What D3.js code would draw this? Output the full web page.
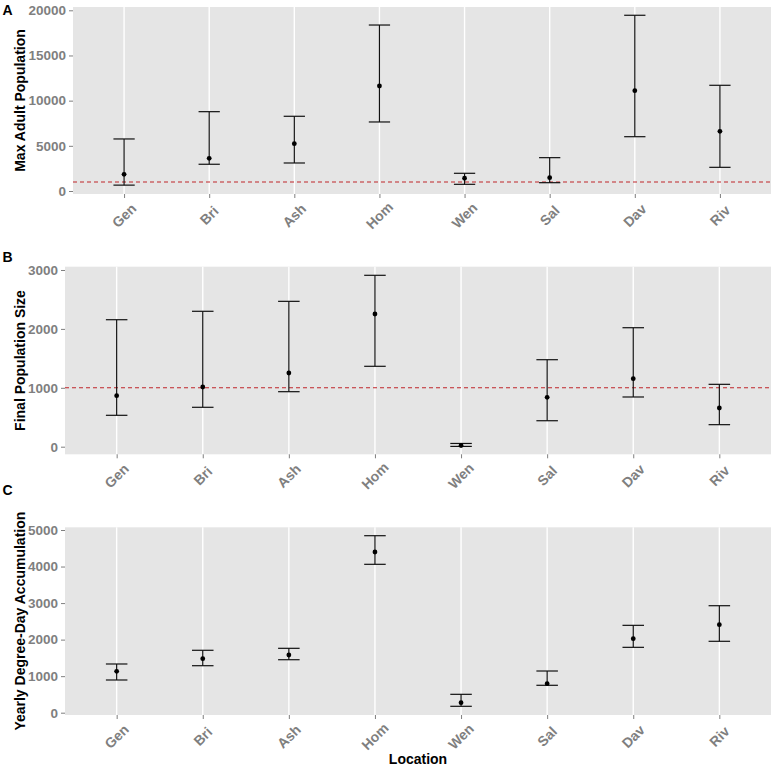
<!DOCTYPE html>
<html>
<head>
<meta charset="utf-8">
<script src="https://cdn.jsdelivr.net/npm/d3@7/dist/d3.min.js"></script>
<style>
  body { margin: 0; background: #fff; }
  svg { display: block; font-family: "Liberation Sans", Arial, Helvetica, sans-serif; }
</style>
</head>
<body>
<svg id="chart" width="776" height="768"></svg>
<script>
// ---- Data ----
const locations = ["Gen", "Bri", "Ash", "Hom", "Wen", "Sal", "Dav", "Riv"];

// Panel A: Max Adult Population
const maxAdultMean = [1850, 3620, 5240, 11620, 1410, 1470, 11100, 6610];
const maxAdultLow  = [650, 2960, 3100, 7640, 740, 920, 6010, 2620];
const maxAdultHigh = [5760, 8780, 8270, 18370, 1960, 3690, 19450, 11700];
const maxAdultTicks = [0, 5000, 10000, 15000, 20000];

// Panel B: Final Population Size
const finalMean = [866, 1014, 1251, 2253, 20, 839, 1155, 657];
const finalLow  = [533, 669, 934, 1365, 5, 441, 844, 374];
const finalHigh = [2156, 2299, 2468, 2910, 55, 1477, 2020, 1059];
const finalTicks = [0, 1000, 2000, 3000];

// Panel C: Yearly Degree-Day Accumulation
const ddMean = [1133, 1478, 1579, 4398, 274, 794, 2025, 2408];
const ddLow  = [895, 1286, 1450, 4061, 175, 750, 1789, 1954];
const ddHigh = [1333, 1708, 1762, 4844, 503, 1141, 2391, 2928];
const ddTicks = [0, 1000, 2000, 3000, 4000, 5000];

const thresholdLine = 1000;

// ---- Drawing ----
const svg = d3.select("#chart");

const panels = [
  { tag: "A", title: "Max Adult Population", mean: maxAdultMean, low: maxAdultLow, high: maxAdultHigh,
    ticks: maxAdultTicks, domain: [-332, 20365], x0: 73, x1: 771, y0: 7, y1: 194, hline: thresholdLine, tagY: 14.5 },
  { tag: "B", title: "Final Population Size", mean: finalMean, low: finalLow, high: finalHigh,
    ticks: finalTicks, domain: [-129, 3056], x0: 65, x1: 771, y0: 266.7, y1: 454.3, hline: thresholdLine, tagY: 261.5 },
  { tag: "C", title: "Yearly Degree-Day Accumulation", mean: ddMean, low: ddLow, high: ddHigh,
    ticks: ddTicks, domain: [-63, 5074], x0: 65, x1: 771, y0: 527.3, y1: 715, hline: null, tagY: 494.5 }
];

const gray = "#7f7f7f";

panels.forEach(p => {
  const g = svg.append("g");
  const x = d3.scalePoint().domain(locations).range([p.x0, p.x1]).padding(0.6);
  const y = d3.scaleLinear().domain(p.domain).range([p.y1, p.y0]);

  // background
  g.append("rect").attr("x", p.x0).attr("y", p.y0)
    .attr("width", p.x1 - p.x0).attr("height", p.y1 - p.y0).attr("fill", "#e5e5e5");

  // vertical grid lines
  g.selectAll(".vg").data(locations).enter().append("line")
    .attr("x1", d => x(d)).attr("x2", d => x(d))
    .attr("y1", p.y0).attr("y2", p.y1)
    .attr("stroke", "#ffffff").attr("stroke-width", 1.4);

  // y axis
  const yAxis = d3.axisLeft(y).tickValues(p.ticks).tickSize(4).tickPadding(3).tickFormat(d3.format("d"));
  const ya = g.append("g").attr("transform", `translate(${p.x0},0)`).call(yAxis);
  ya.select(".domain").remove();
  ya.selectAll(".tick line").attr("stroke", gray).attr("stroke-width", 1);
  ya.selectAll(".tick text").attr("fill", gray).attr("font-size", "13.5px").attr("font-weight", "bold")
    .attr("font-family", "Liberation Sans, Arial, sans-serif");

  // x axis
  const xAxis = d3.axisBottom(x).tickSize(4).tickPadding(0);
  const xa = g.append("g").attr("transform", `translate(0,${p.y1})`).call(xAxis);
  xa.select(".domain").remove();
  xa.selectAll(".tick line").attr("stroke", gray).attr("stroke-width", 1);
  xa.selectAll(".tick text")
    .attr("fill", gray).attr("font-size", "14px").attr("font-weight", "bold")
    .attr("font-family", "Liberation Sans, Arial, sans-serif")
    .attr("text-anchor", "middle").attr("y", 0).attr("dy", 0)
    .attr("transform", "translate(3,25) rotate(-45)");

  // threshold line
  if (p.hline !== null) {
    g.append("line").attr("x1", p.x0).attr("x2", p.x1)
      .attr("y1", y(p.hline)).attr("y2", y(p.hline))
      .attr("stroke", "#c0262b").attr("stroke-width", 1.1).attr("stroke-dasharray", "4,3");
  }

  // error bars
  const capW = x.step() * 0.25;
  const bars = g.append("g");
  locations.forEach((loc, i) => {
    const cx = x(loc);
    bars.append("line").attr("x1", cx).attr("x2", cx)
      .attr("y1", y(p.low[i])).attr("y2", y(p.high[i]))
      .attr("stroke", "#111").attr("stroke-width", 1.2);
    [p.low[i], p.high[i]].forEach(v => {
      bars.append("line").attr("x1", cx - capW / 2).attr("x2", cx + capW / 2)
        .attr("y1", y(v)).attr("y2", y(v))
        .attr("stroke", "#111").attr("stroke-width", 1.2);
    });
    bars.append("circle").attr("cx", cx).attr("cy", y(p.mean[i])).attr("r", 2.4).attr("fill", "#000");
  });

  // y title
  const cy = (p.y0 + p.y1) / 2;
  g.append("text").attr("transform", `translate(24.5,${cy}) rotate(-90)`)
    .attr("text-anchor", "middle").attr("font-size", "14px").attr("font-weight", "bold")
    .attr("fill", "#000").text(p.title);

  // panel tag
  g.append("text").attr("x", 2.5).attr("y", p.tagY)
    .attr("font-size", "14px").attr("font-weight", "bold").attr("fill", "#000").text(p.tag);
});

// x title
svg.append("text").attr("x", (65 + 771) / 2).attr("y", 764)
  .attr("text-anchor", "middle").attr("font-size", "14px").attr("font-weight", "bold")
  .attr("fill", "#000").text("Location");
</script>
</body>
</html>
